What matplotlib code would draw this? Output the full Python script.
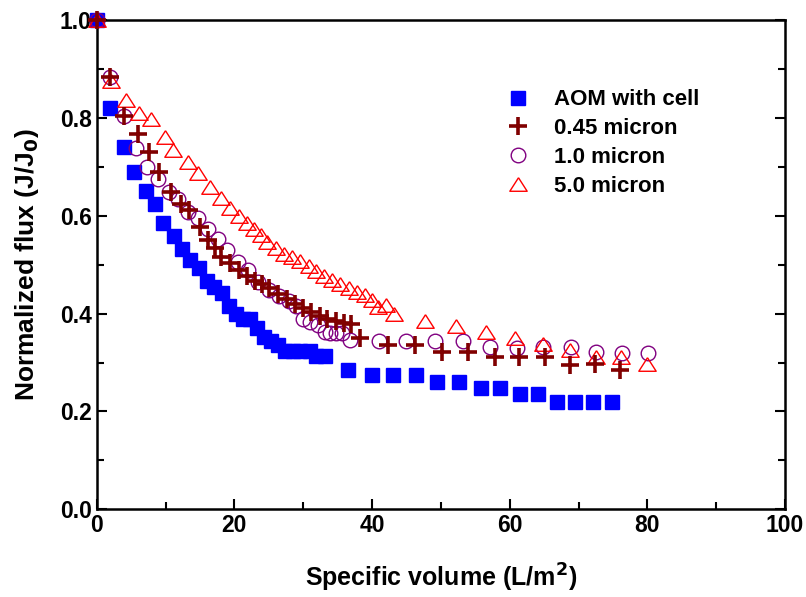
import matplotlib
matplotlib.use("Agg")
import matplotlib.pyplot as plt
from matplotlib.ticker import MultipleLocator

plt.rcParams['font.family'] = ['Liberation Sans', 'DejaVu Sans']
plt.rcParams['font.weight'] = 'bold'

# AOM with cell
aom_x = [0, 2, 3.9, 5.4, 7.1, 8.4, 9.7, 11.2, 12.4, 13.5, 14.8, 16, 17, 18.2, 19.2,
         20.2, 21.2, 22.2, 23.3, 24.3, 25.3, 26.3, 27.3, 28.5, 29.5, 31, 31.8, 33.1,
         36.5, 40, 43.1, 46.4, 49.4, 52.6, 55.8, 58.6, 61.5, 64.1, 66.8, 69.5, 72.1, 74.8]
aom_y = [1.0, 0.82, 0.74, 0.69, 0.65, 0.624, 0.585, 0.558, 0.532, 0.509, 0.493, 0.466,
         0.454, 0.442, 0.415, 0.40, 0.39, 0.39, 0.37, 0.352, 0.344, 0.335, 0.323, 0.323,
         0.323, 0.323, 0.313, 0.313, 0.284, 0.274, 0.274, 0.274, 0.26, 0.26, 0.247, 0.247,
         0.235, 0.235, 0.22, 0.22, 0.22, 0.22]

# 0.45 micron
m045_x = [0, 2, 4, 6, 7.6, 9.0, 10.8, 12.2, 13.4, 15.0, 16.1, 17.2, 18.1, 19.3, 20.6,
          21.8, 23.0, 24.0, 25.1, 26.4, 27.6, 28.8, 30.0, 31.2, 32.4, 33.5, 34.7, 35.9,
          37.0, 38.2, 42.3, 46.3, 50.1, 53.9, 57.8, 61.4, 65.1, 68.8, 72.4, 76.0]
m045_y = [1.0, 0.885, 0.805, 0.768, 0.73, 0.69, 0.648, 0.625, 0.613, 0.578, 0.55, 0.535,
          0.516, 0.503, 0.49, 0.477, 0.467, 0.46, 0.452, 0.44, 0.43, 0.42, 0.412, 0.404,
          0.396, 0.39, 0.385, 0.38, 0.378, 0.35, 0.336, 0.336, 0.322, 0.322, 0.311, 0.311,
          0.311, 0.296, 0.298, 0.284]

# 1.0 micron
m10_x = [0, 2, 3.9, 5.7, 7.3, 8.9, 10.5, 11.8, 13.2, 14.7, 16.1, 17.6, 18.9, 20.5, 22.0,
         23.5, 25.1, 26.5, 27.9, 29.0, 29.9, 31.0, 32.1, 33.1, 33.9, 34.7, 35.6, 36.8,
         41.0, 45.0, 49.1, 53.2, 57.1, 61.0, 64.9, 68.9, 72.5, 76.3, 80.1]
m10_y = [1.0, 0.885, 0.805, 0.738, 0.70, 0.675, 0.648, 0.634, 0.607, 0.595, 0.574, 0.553,
         0.53, 0.505, 0.489, 0.465, 0.448, 0.436, 0.425, 0.415, 0.39, 0.383, 0.376, 0.363,
         0.36, 0.36, 0.36, 0.346, 0.345, 0.345, 0.345, 0.345, 0.331, 0.329, 0.331, 0.331,
         0.321, 0.319, 0.319]

# 5.0 micron
m50_x = [0, 2.1, 4.2, 6.1, 7.9, 9.9, 11.1, 13.2, 14.7, 16.5, 18.0, 19.4, 20.6, 21.8, 22.8,
         23.8, 24.8, 26.0, 27.2, 28.4, 29.6, 30.8, 31.8, 33.0, 34.2, 35.4, 36.6, 37.8,
         39.0, 40.0, 40.9, 42.0, 43.2, 47.7, 52.2, 56.6, 60.7, 64.9, 68.8, 72.5, 76.2, 79.9]
m50_y = [1.0, 0.875, 0.838, 0.81, 0.798, 0.761, 0.734, 0.71, 0.687, 0.66, 0.636, 0.617,
         0.6, 0.585, 0.574, 0.56, 0.547, 0.535, 0.522, 0.515, 0.508, 0.497, 0.488, 0.478,
         0.468, 0.46, 0.452, 0.444, 0.438, 0.427, 0.414, 0.418, 0.40, 0.386, 0.374, 0.363,
         0.35, 0.337, 0.325, 0.311, 0.311, 0.298]

# wide flat triangle like the original
tri = [(0, 0.78), (-1, -0.78), (1, -0.78), (0, 0.78)]

fig = plt.figure(figsize=(8.06, 5.97), dpi=100)
ax = fig.add_axes([0.120, 0.147, 0.854, 0.819])

ax.plot(aom_x, aom_y, ls='none', marker='s', ms=9.5, color='#0000ff',
        mec='#0000ff', label='AOM with cell', clip_on=False, zorder=3)
ax.plot(m045_x, m045_y, ls='none', marker='+', ms=13, mew=2.6, color='#800000',
        label='0.45 micron', clip_on=False, zorder=6)
ax.plot(m10_x, m10_y, ls='none', marker='o', ms=10.5, mfc='none', mew=1.0,
        mec='#800080', label='1.0 micron', clip_on=False, zorder=4)
ax.plot(m50_x, m50_y, ls='none', marker=tri, ms=12.5, mfc='none', mew=1.0,
        mec='#ff0000', label='5.0 micron', clip_on=False, zorder=5)

ax.set_xlim(0, 100)
ax.set_ylim(0, 1.0)
ax.xaxis.set_major_locator(MultipleLocator(20))
ax.xaxis.set_minor_locator(MultipleLocator(10))
ax.yaxis.set_major_locator(MultipleLocator(0.2))
ax.yaxis.set_minor_locator(MultipleLocator(0.1))
ax.yaxis.set_major_formatter(plt.FormatStrFormatter('%.1f'))
ax.tick_params(which='both', direction='in', right=True, top=False, width=1.5)
ax.tick_params(which='major', length=7, labelsize=16.5)
ax.tick_params(which='minor', length=5)
for s in ax.spines.values():
    s.set_linewidth(1.8)

ax.set_xlabel('Specific volume (L/m$^\\mathbf{2}$)', fontsize=18, fontweight='bold', labelpad=18)
ax.set_ylabel('Normalized flux (J/J$_\\mathbf{0}$)', fontsize=19, fontweight='bold', labelpad=14)

ax.legend(loc='upper left', bbox_to_anchor=(0.58, 0.877), frameon=False,
          fontsize=16, handlelength=1.2, handletextpad=1.0, labelspacing=0.35,
          borderaxespad=0)

fig.savefig('out.png', dpi=100)
